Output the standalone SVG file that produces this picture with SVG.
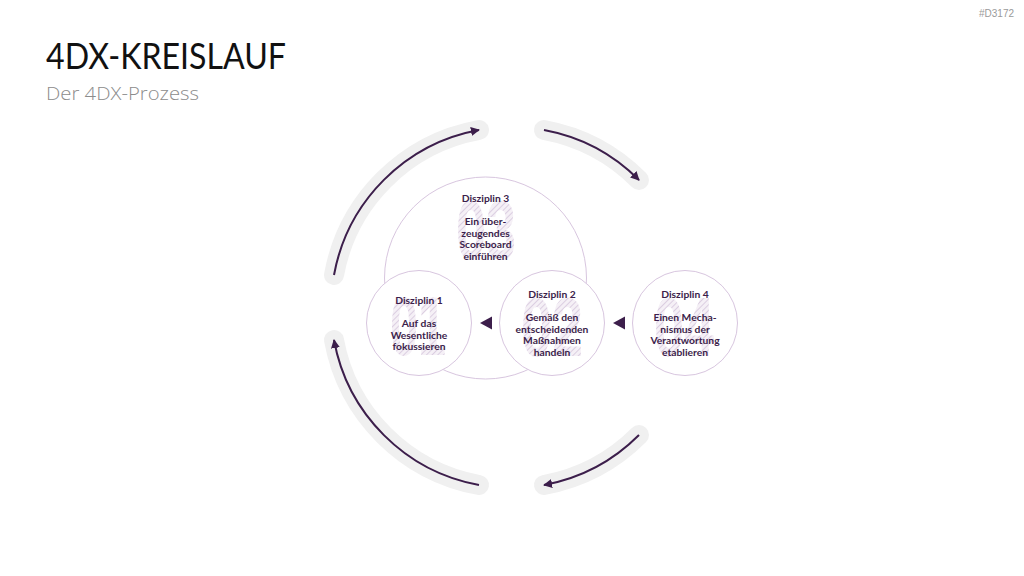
<svg xmlns="http://www.w3.org/2000/svg" width="1024" height="576" viewBox="0 0 1024 576">
  <defs>
    <pattern id="hatch" patternUnits="userSpaceOnUse" width="4" height="4" patternTransform="rotate(45)">
      <rect width="4" height="4" fill="#f5f0f6"/>
      <line x1="0" y1="0" x2="0" y2="4" stroke="#d9cadf" stroke-width="1.8"/>
    </pattern>
    <marker id="ah" viewBox="0 0 10 10" refX="9" refY="5" markerWidth="4.5" markerHeight="4.5" orient="auto" markerUnits="strokeWidth">
      <path d="M0,0 L10,5 L0,10 Z" fill="#3c1e4b"/>
    </marker>
    <style>
      .band{fill:none;stroke:#f0f0f0;stroke-width:20;stroke-linecap:round}
      .arc{fill:none;stroke:#3c1e4b;stroke-width:2;marker-end:url(#ah)}
      .node{fill:#ffffff;stroke:#d8c6df;stroke-width:1}
      .num{font-family:"Liberation Sans",Arial,sans-serif;font-weight:bold;font-size:84px;fill:url(#hatch);text-anchor:middle}
      .lbl{font-family:Lato,"Open Sans",sans-serif;font-weight:bold;font-size:10.3px;fill:#3c1e4b;text-anchor:middle}
      .tri{fill:#3c1e4b}
    </style>
  </defs>
  <rect width="1024" height="576" fill="#ffffff"/>

  <text x="1014" y="17" font-family="Liberation Sans, Arial, sans-serif" font-size="10" fill="#9a9a9a" text-anchor="end">#D3172</text>
  <text x="46" y="69" font-family="Lato, 'Open Sans', sans-serif" font-size="36" fill="#111111" textLength="240" lengthAdjust="spacingAndGlyphs">4DX-KREISLAUF</text>
  <text x="46" y="100" font-family="'Open Sans', Lato, sans-serif" font-size="19" font-weight="300" fill="#8c8c8c" textLength="153" lengthAdjust="spacingAndGlyphs">Der 4DX-Prozess</text>

  <g id="disziplin3">
    <circle class="node" cx="485.5" cy="278" r="101"/>
    <text class="num" x="486" y="259" textLength="60" lengthAdjust="spacingAndGlyphs">03</text>
    <text class="lbl" x="485.5" y="202">Disziplin 3</text>
    <text class="lbl" x="485.5" y="225">Ein über-</text>
    <text class="lbl" x="485.5" y="236.5">zeugendes</text>
    <text class="lbl" x="485.5" y="248">Scoreboard</text>
    <text class="lbl" x="485.5" y="259.5">einführen</text>
  </g>

  <g id="disziplin1">
    <circle class="node" cx="419" cy="323" r="52.5"/>
    <text class="num" x="418" y="355" textLength="56" lengthAdjust="spacingAndGlyphs">01</text>
    <text class="lbl" x="419" y="304">Disziplin 1</text>
    <text class="lbl" x="419" y="327">Auf das</text>
    <text class="lbl" x="419" y="338.5">Wesentliche</text>
    <text class="lbl" x="419" y="350">fokussieren</text>
  </g>

  <g id="disziplin2">
    <circle class="node" cx="552" cy="323" r="52.5"/>
    <text class="num" x="552" y="356" textLength="62" lengthAdjust="spacingAndGlyphs">02</text>
    <text class="lbl" x="552" y="298">Disziplin 2</text>
    <text class="lbl" x="552" y="321">Gemäß den</text>
    <text class="lbl" x="552" y="332.5">entscheidenden</text>
    <text class="lbl" x="552" y="344">Maßnahmen</text>
    <text class="lbl" x="552" y="355.5">handeln</text>
  </g>

  <g id="disziplin4">
    <circle class="node" cx="685" cy="323" r="52.5"/>
    <text class="num" x="684" y="356" textLength="60" lengthAdjust="spacingAndGlyphs">04</text>
    <text class="lbl" x="685" y="298">Disziplin 4</text>
    <text class="lbl" x="685" y="321">Einen Mecha-</text>
    <text class="lbl" x="685" y="332.5">nismus der</text>
    <text class="lbl" x="685" y="344">Verantwortung</text>
    <text class="lbl" x="685" y="355.5">etablieren</text>
  </g>

  <g id="connectors">
    <path class="band" d="M334,275 A180.4,180.4 0 0 1 479,130"/>
    <path class="band" d="M544,130 A180.4,180.4 0 0 1 639,180"/>
    <path class="band" d="M639,435 A180.4,180.4 0 0 1 544,485"/>
    <path class="band" d="M479,485 A180.4,180.4 0 0 1 334,340"/>
    <path class="arc" d="M334,275 A180.4,180.4 0 0 1 479,130"/>
    <path class="arc" d="M544,130 A180.4,180.4 0 0 1 639,180"/>
    <path class="arc" d="M639,435 A180.4,180.4 0 0 1 544,485"/>
    <path class="arc" d="M479,485 A180.4,180.4 0 0 1 334,340"/>
    <polygon class="tri" points="480,323 492,316.5 492,329.5"/>
    <polygon class="tri" points="613,323 625,316.5 625,329.5"/>
  </g>
</svg>
